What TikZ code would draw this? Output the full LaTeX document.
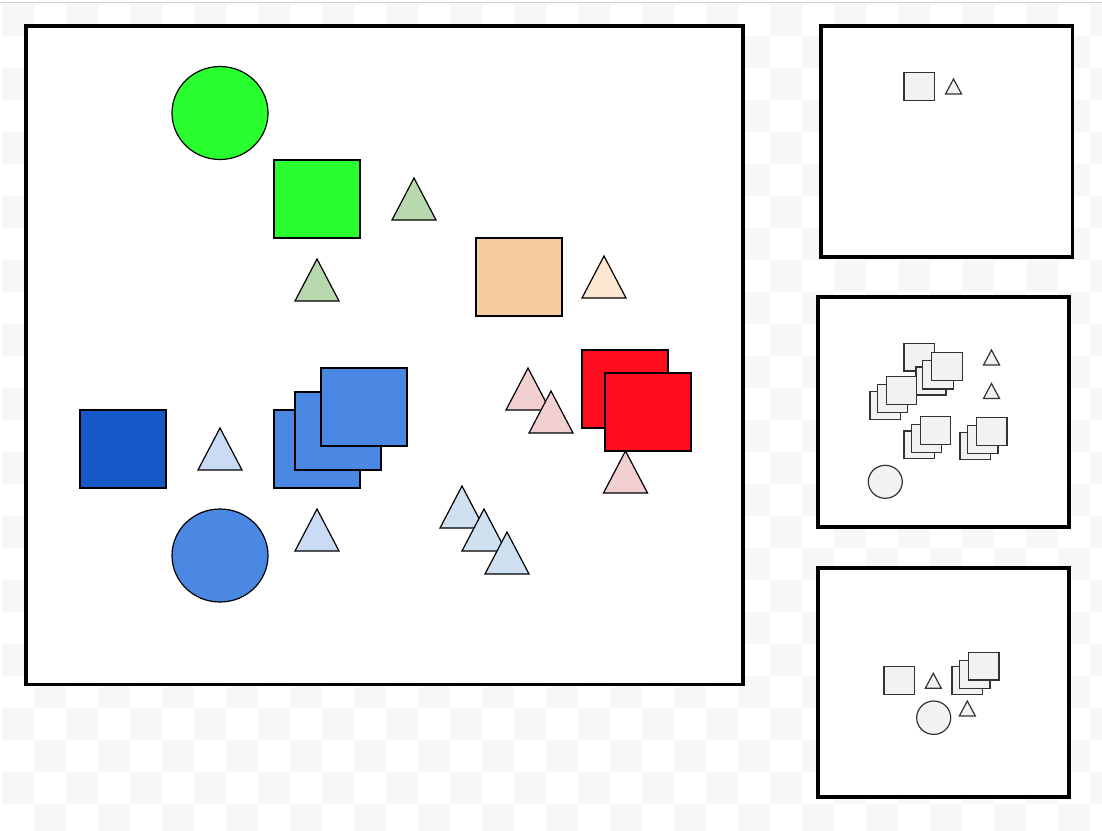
\documentclass[tikz,border=0pt]{standalone}
\usepackage{tikz}
\definecolor{chk}{HTML}{F7F7F7}
\definecolor{topline}{HTML}{CCCCCC}
\definecolor{cgreen}{HTML}{29FF2E}
\definecolor{cltgreen}{HTML}{B8D8AE}
\definecolor{corange}{HTML}{F7CCA0}
\definecolor{cltorange}{HTML}{FDE6CF}
\definecolor{cred}{HTML}{FF0C1E}
\definecolor{cpink}{HTML}{F2CFD0}
\definecolor{cdkblue}{HTML}{1758C8}
\definecolor{cblue}{HTML}{4A88E4}
\definecolor{cltblue}{HTML}{C9DBF5}
\definecolor{csteel}{HTML}{CFE0F1}
\definecolor{cgrayfill}{HTML}{F2F2F2}
\definecolor{cgraystroke}{HTML}{333333}
\tikzset{
  frame/.style={draw=black, line width=3.7pt, fill=white},
  bigshape/.style={draw=black, line width=1.2pt},
  smallshape/.style={draw=cgraystroke, line width=1.2pt, fill=cgrayfill},
}
% big triangle: apex x, apex y
\newcommand{\bigtri}[3]{\draw[bigshape, fill=#3] (#1,#2) -- ++(22,42) -- ++(-44,0) -- cycle;}
% small triangle
\newcommand{\smalltri}[2]{\draw[smallshape] (#1,#2) -- ++(8,15) -- ++(-16,0) -- cycle;}
\begin{document}
\begin{tikzpicture}[x=1pt,y=-1pt]
\useasboundingbox (0,0) rectangle (1102,830);
\fill[white] (0,0) rectangle (1102,830);
\begin{scope}
\clip (0,4.3) rectangle (1102,830);
\foreach \i in {0,...,34} {
  \foreach \j in {0,...,25} {
    \pgfmathtruncatemacro\s{mod(\i+\j,2)}
    \ifnum\s=0
      \fill[chk] (1.7+32*\i,4.3+32*\j) rectangle ++(32,32);
    \fi
  }
}
\end{scope}
\draw[topline, line width=1.3pt] (0,2.7) -- (1102,2.7);

% frames
\draw[frame] (26,26) rectangle (743,684.5);
\draw[frame] (821.3,26.3) rectangle (1072.5,256.7);
\draw[frame] (818.3,297) rectangle (1069,527);
\draw[frame] (818.3,568) rectangle (1069,797);

% main panel
\draw[bigshape, fill=cgreen] (220,113) ellipse [x radius=48, y radius=46.5];
\draw[bigshape, fill=cgreen] (274,160) rectangle (360,238);
\bigtri{414}{178}{cltgreen}
\bigtri{317}{259}{cltgreen}
\draw[bigshape, fill=corange] (476,238) rectangle (562,316);
\bigtri{604}{256}{cltorange}
\draw[bigshape, fill=cred] (582,350) rectangle (668,428);
\draw[bigshape, fill=cred] (605,373) rectangle (691,451);
\bigtri{528}{368}{cpink}
\bigtri{551}{391}{cpink}
\bigtri{625.5}{451}{cpink}
\draw[bigshape, fill=cdkblue] (80,410) rectangle (166,488);
\bigtri{220}{428}{cltblue}
\draw[bigshape, fill=cblue] (274,410) rectangle (360,488);
\draw[bigshape, fill=cblue] (295,392) rectangle (381,470);
\draw[bigshape, fill=cblue] (321,368) rectangle (407,446);
\draw[bigshape, fill=cblue] (220,555.5) ellipse [x radius=48, y radius=46.5];
\bigtri{317}{509}{cltblue}
\bigtri{462}{486}{csteel}
\bigtri{484}{509}{csteel}
\bigtri{507}{532}{csteel}

% top right panel
\draw[smallshape] (904,72.3) rectangle (934.5,100.3);
\smalltri{953.5}{79}

% middle right panel
\draw[smallshape] (904,343.3) rectangle (934.7,371);
\draw[smallshape] (916,367) rectangle (946,395);
\draw[smallshape] (922.7,360.7) rectangle (953.3,389);
\draw[smallshape] (931.7,352.7) rectangle (962.3,380.5);
\draw[smallshape] (870,391.3) rectangle (900.3,419.3);
\draw[smallshape] (877.3,384.7) rectangle (907.7,412.7);
\draw[smallshape] (886.7,376.7) rectangle (916.7,404.3);
\draw[smallshape] (904,431) rectangle (934.7,458.7);
\draw[smallshape] (911.3,424.3) rectangle (941.7,452.3);
\draw[smallshape] (920.7,416.7) rectangle (950.7,444.3);
\draw[smallshape] (960,432.3) rectangle (990.3,459.7);
\draw[smallshape] (967.7,425.7) rectangle (998,453.3);
\draw[smallshape] (976.7,417.7) rectangle (1007,445.3);
\smalltri{991.5}{350}
\smalltri{991.5}{383.5}
\draw[smallshape] (885.3,481.8) ellipse [x radius=17, y radius=16.5];

% bottom right panel
\draw[smallshape] (884,666.7) rectangle (914.7,694.3);
\smalltri{933.3}{673.3}
\draw[smallshape] (952,666.7) rectangle (982.3,694.3);
\draw[smallshape] (959.3,660.7) rectangle (990,688.3);
\draw[smallshape] (968.3,652.3) rectangle (999,680);
\smalltri{967.3}{701}
\draw[smallshape] (933.7,717.7) ellipse [x radius=17, y radius=16.7];
\end{tikzpicture}
\end{document}
